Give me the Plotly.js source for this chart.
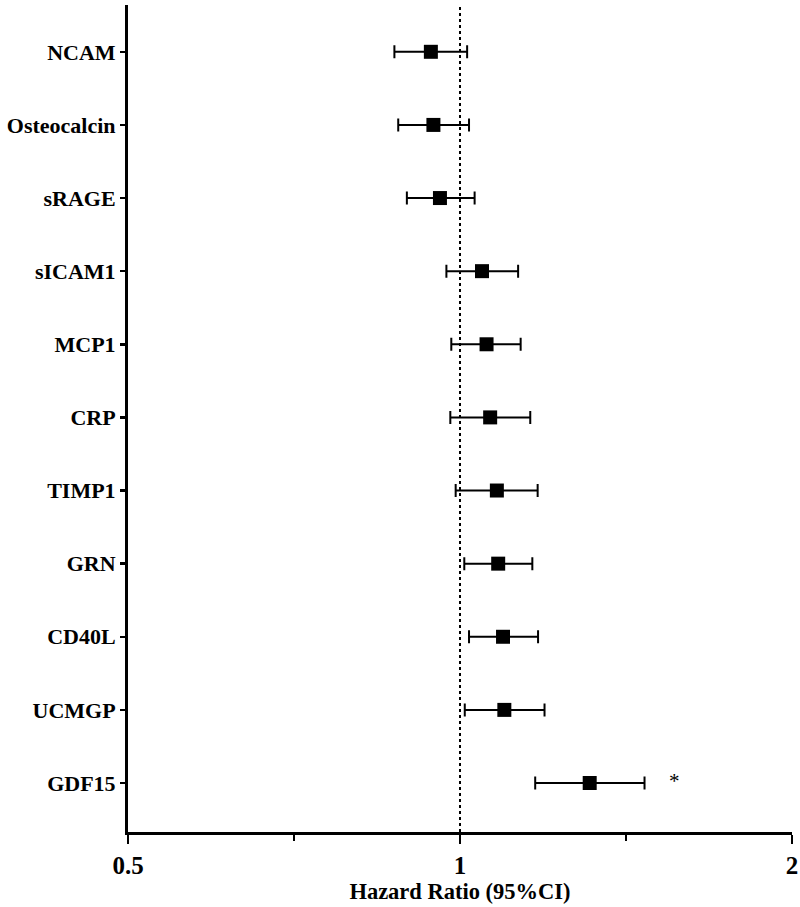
<!DOCTYPE html>
<html>
<head>
<meta charset="utf-8">
<script src="https://cdn.plot.ly/plotly-3.0.1.min.js"></script>
<style>html,body{margin:0;padding:0;background:#fff;}#chart{width:800px;height:907px;}</style>
</head>
<body>
<div id="chart"></div>
<script>
// Data
const markers = ["NCAM","Osteocalcin","sRAGE","sICAM1","MCP1","CRP","TIMP1","GRN","CD40L","UCMGP","GDF15"];
const hr      = [0.941, 0.946, 0.959, 1.047, 1.057, 1.065, 1.080, 1.083, 1.094, 1.097, 1.311];
const ciLow   = [0.872, 0.879, 0.895, 0.972, 0.982, 0.980, 0.991, 1.009, 1.019, 1.010, 1.170];
const ciHigh  = [1.015, 1.019, 1.031, 1.129, 1.135, 1.158, 1.176, 1.163, 1.177, 1.193, 1.470];
const significance = ["","","","","","","","","","","*"];
const xTickVals = [0.5, 1, 2];
const xTickText = ["0.5", "1", "2"];
const xMinorVals = [Math.SQRT1_2, Math.SQRT2];

const idx = markers.map((_, i) => i);
const font = {family: "Liberation Serif, Times New Roman, serif", color: "#000", weight: "bold"};

const trace = {
  type: "scatter",
  mode: "markers",
  x: hr,
  y: idx,
  marker: {symbol: "square", size: 14, color: "#000"},
  error_x: {
    type: "data", symmetric: false,
    array: hr.map((v, i) => ciHigh[i] - v),
    arrayminus: hr.map((v, i) => v - ciLow[i]),
    color: "#000", thickness: 2, width: 6.5
  },
  hoverinfo: "x+y"
};

const annotations = [];
significance.forEach((s, i) => {
  if (s) annotations.push({
    x: Math.log10(ciHigh[i]) + 0.02, y: i, xref: "x", yref: "y",
    text: s, showarrow: false, xanchor: "left", yanchor: "middle",
    font: {family: font.family, size: 21, color: "#000"}, yshift: 2
  });
});

const layout = {
  width: 800, height: 907,
  margin: {l: 128, r: 8, t: 5, b: 75},
  paper_bgcolor: "#fff", plot_bgcolor: "#fff",
  showlegend: false,
  xaxis: {
    type: "log",
    range: [Math.log10(0.5), Math.log10(2)],
    tickmode: "array", tickvals: xTickVals, ticktext: xTickText,
    ticks: "outside", ticklen: 9, tickwidth: 2.5, tickcolor: "#000",
    minor: {tickmode: "array", tickvals: xMinorVals, ticks: "outside", ticklen: 6, tickwidth: 2.5, tickcolor: "#000", showgrid: false},
    showline: true, linecolor: "#000", linewidth: 3,
    showgrid: false, zeroline: false,
    tickfont: Object.assign({}, font, {size: 25}),
    title: {text: "Hazard Ratio (95%CI)", font: Object.assign({}, font, {size: 22.5}), standoff: 0}
  },
  yaxis: {
    range: [10.67, -0.64],
    tickmode: "array", tickvals: idx, ticktext: markers,
    ticks: "outside", ticklen: 5, tickwidth: 2.5, tickcolor: "#000",
    showline: true, linecolor: "#000", linewidth: 3,
    showgrid: false, zeroline: false,
    tickfont: Object.assign({}, font, {size: 22})
  },
  shapes: [{
    type: "line", xref: "x", yref: "paper", x0: 1, x1: 1, y0: 0, y1: 1,
    line: {color: "#000", width: 2, dash: "dot"}, layer: "below"
  }],
  annotations: annotations
};

Plotly.newPlot("chart", [trace], layout, {displayModeBar: false, staticPlot: true});
</script>
</body>
</html>
